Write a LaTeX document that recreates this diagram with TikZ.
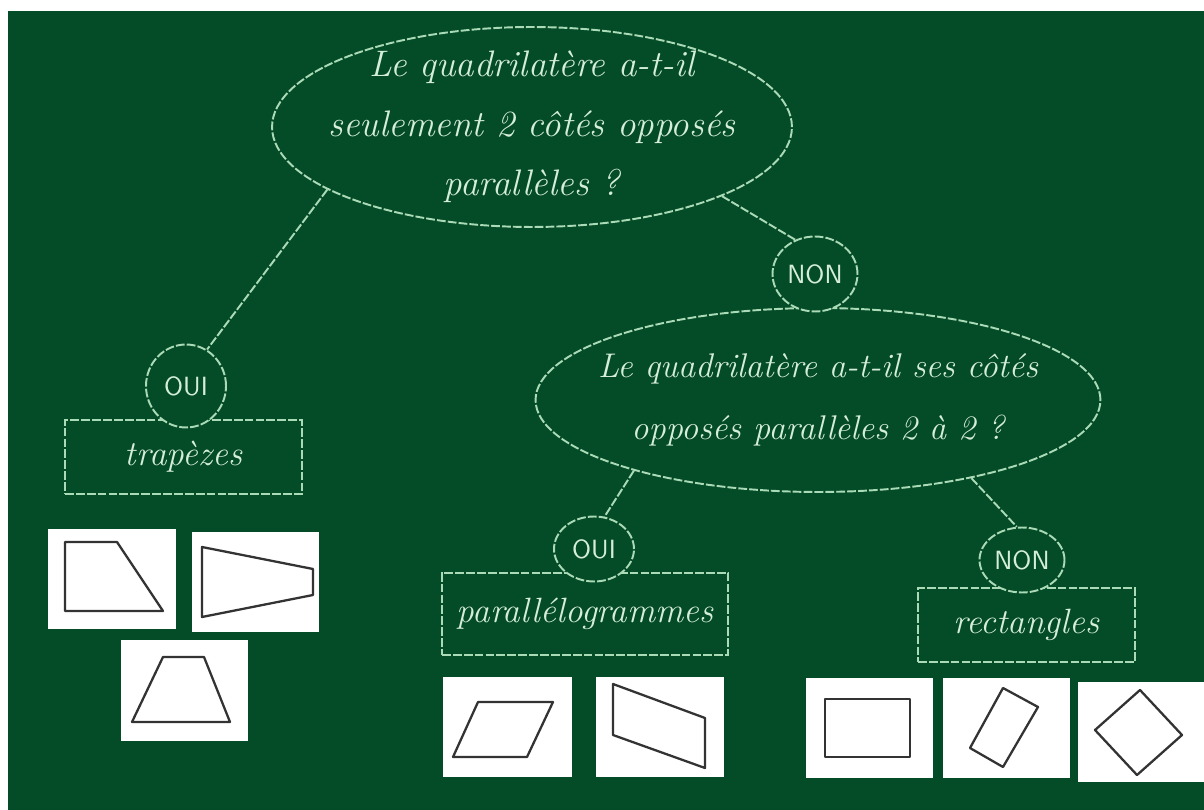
\documentclass[tikz,border=0pt]{standalone}
\usepackage{tikz}
\usetikzlibrary{shapes.geometric}

\definecolor{tableau}{RGB}{4,75,39}
\definecolor{craie}{RGB}{170,218,182}
\definecolor{craietexte}{RGB}{212,238,218}

\begin{document}
\begin{tikzpicture}[x=0.02cm, y=-0.02cm,
    chalk/.style={draw=craie, line width=1.1pt, dash pattern=on 5pt off 1.2pt},
    bulle/.style={chalk, ellipse, fill=tableau, inner sep=-1cm, align=center, text=craietexte, font=\itshape\fontsize{19.5}{35}\selectfont},
    reponse/.style={chalk, ellipse, fill=tableau, inner sep=0pt, minimum width=1.6cm, text=craietexte, font=\sffamily\fontsize{15}{18}\selectfont},
    famille/.style={chalk, rectangle, minimum height=1.48cm, text=craietexte, font=\itshape\fontsize{20}{24}\selectfont},
    tuile/.style={fill=white},
    forme/.style={draw=black!80, line width=1.3pt, line join=round}
]
\useasboundingbox (0,0) rectangle (1204,810);
\fill[white] (0,0) rectangle (1204,810);
\fill[tableau] (8,11) rectangle (1204,810);

\node[famille, minimum width=4.74cm] (trap) at (183.5,457) {trapèzes};
\node[famille, minimum width=5.72cm, minimum height=1.64cm] (para) at (585,614) {parallélogrammes};
\node[famille, minimum width=4.34cm] (rect) at (1026.5,625) {rectangles};

\node[bulle, minimum width=10.4cm, minimum height=4cm, font=\itshape\fontsize{21}{34}\selectfont] (q1) at (532,127)
    {Le quadrilatère a-t-il\\seulement 2 côtés opposés\\parallèles ?};
\node[bulle, minimum width=11.3cm, minimum height=3.68cm] (q2) at (818,400)
    {Le quadrilatère a-t-il ses côtés\\opposés parallèles 2 à 2 ?};

\node[reponse, minimum height=1.66cm] (oui1) at (186,386) {OUI};
\node[reponse, minimum width=1.7cm, minimum height=1.5cm] (non1) at (815,274) {NON};
\node[reponse, minimum height=1.3cm] (oui2) at (594,549) {OUI};
\node[reponse, minimum width=1.7cm, minimum height=1.3cm] (non2) at (1022,560) {NON};

\draw[chalk] (q1.197) -- (oui1.60);
\draw[chalk] (q1.-20) -- (non1.120);
\draw[chalk] (q2.201) -- (oui2.72);
\draw[chalk] (q2.-27) -- (non2.99);

\fill[tuile] (48,529) rectangle (176,629);
\draw[forme] (65,542) -- (117,542) -- (163,611) -- (65,611) -- cycle;
\fill[tuile] (192,532) rectangle (319,632);
\draw[forme] (202,547) -- (313,569) -- (313,595) -- (202,617) -- cycle;
\fill[tuile] (121,640) rectangle (248,741);
\draw[forme] (163,657) -- (204,657) -- (230,722) -- (132,722) -- cycle;

\fill[tuile] (443,677) rectangle (572,777);
\draw[forme] (478,702) -- (553,702) -- (527,757) -- (453,757) -- cycle;
\fill[tuile] (596,677) rectangle (724,777);
\draw[forme] (613,684) -- (705,718) -- (705,768) -- (613,735) -- cycle;

\fill[tuile] (806,678) rectangle (933,778);
\draw[forme] (825,699) rectangle (910,757);
\fill[tuile] (943,678) rectangle (1070,778);
\draw[forme] (1003,688) -- (1038,707) -- (1003,767) -- (970,748) -- cycle;
\fill[tuile] (1078,682) rectangle (1204,782);
\draw[forme] (1140,690) -- (1182,735) -- (1137,775) -- (1095,730) -- cycle;
\end{tikzpicture}
\end{document}
